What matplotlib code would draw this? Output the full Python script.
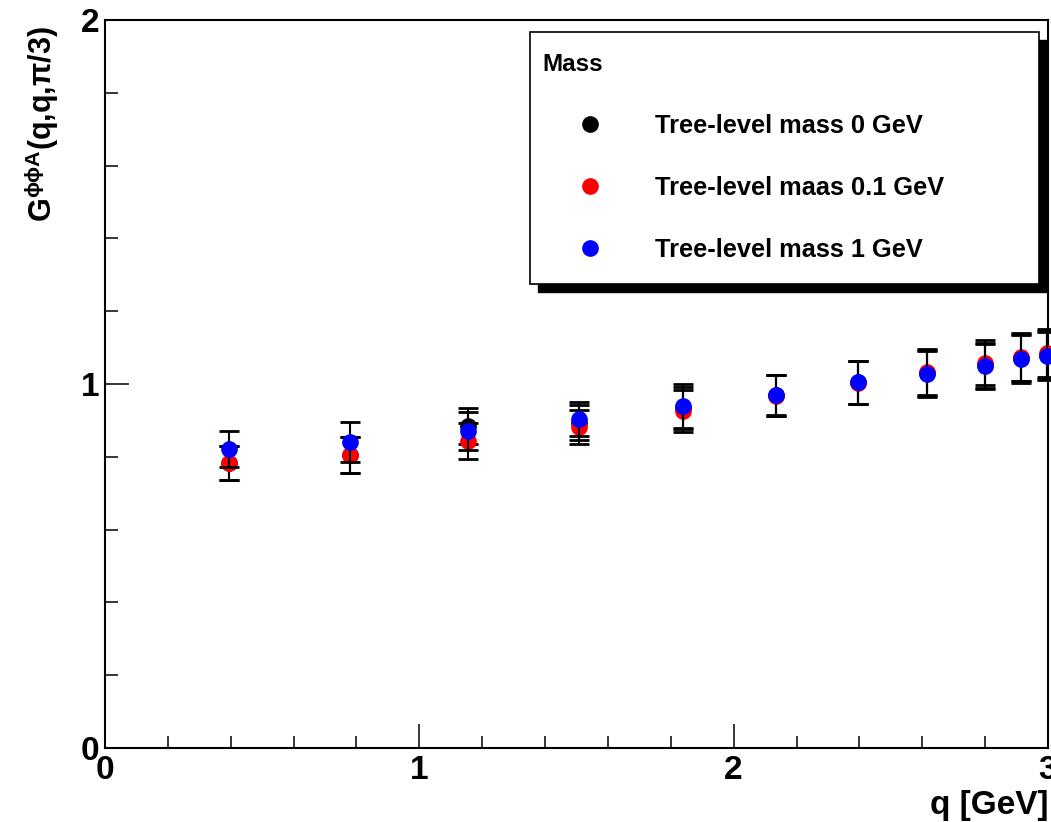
import matplotlib
matplotlib.use("Agg")
import matplotlib.pyplot as plt
from matplotlib.patches import Rectangle
from matplotlib.ticker import MultipleLocator

plt.rcParams['font.family'] = ['Liberation Sans', 'DejaVu Sans']
plt.rcParams['font.weight'] = 'bold'
plt.rcParams['mathtext.fontset'] = 'custom'
plt.rcParams['mathtext.rm'] = 'Liberation Sans:bold'
plt.rcParams['mathtext.it'] = 'Liberation Sans:bold'
plt.rcParams['mathtext.bf'] = 'Liberation Sans:bold'

# data
q = [0.395, 0.78, 1.155, 1.508, 1.839, 2.135, 2.396, 2.615, 2.80, 2.914, 2.997]

g_m0 = [0.783, 0.805, 0.884, 0.893, 0.934, 0.969, 1.005, 1.030, 1.052, 1.072, 1.080]
err_m0 = [0.047, 0.049, 0.050, 0.048, 0.058, 0.056, 0.059, 0.063, 0.062, 0.065, 0.066]

g_m01 = [0.783, 0.805, 0.843, 0.882, 0.926, 0.968, 1.003, 1.033, 1.058, 1.074, 1.085]
err_m01 = [0.047, 0.049, 0.049, 0.047, 0.058, 0.056, 0.059, 0.063, 0.062, 0.065, 0.066]

g_m1 = [0.821, 0.841, 0.871, 0.904, 0.940, 0.970, 1.005, 1.027, 1.049, 1.069, 1.077]
err_m1 = [0.049, 0.055, 0.052, 0.047, 0.060, 0.056, 0.059, 0.063, 0.062, 0.065, 0.066]

labels = ["Tree-level mass 0 GeV", "Tree-level maas 0.1 GeV", "Tree-level mass 1 GeV"]
colors = ["black", "red", "blue"]

W, H = 1051, 822
fig = plt.figure(figsize=(W / 100, H / 100), dpi=100)
ax = fig.add_axes([105 / W, 1 - 748 / H, 943 / W, 728 / H])

handles = []
for i, (y, e) in enumerate([(g_m0, err_m0), (g_m01, err_m01), (g_m1, err_m1)]):
    cont = ax.errorbar(q, y, yerr=e, fmt='o', color=colors[i], ms=11,
                       ecolor='black', elinewidth=1.5, capsize=7, capthick=2,
                       zorder=2 + i, clip_on=False)
    handles.append(cont[0])

ax.set_xlim(0, 3)
ax.set_ylim(0, 2)
ax.xaxis.set_major_locator(MultipleLocator(1))
ax.xaxis.set_minor_locator(MultipleLocator(0.2))
ax.yaxis.set_major_locator(MultipleLocator(1))
ax.yaxis.set_minor_locator(MultipleLocator(0.2))
ax.tick_params(which='both', direction='in', top=False, right=False,
               width=1.1, labelsize=24)
ax.tick_params(which='major', length=17)
ax.tick_params(which='minor', length=9)
ax.tick_params(axis='x', pad=5)
ax.tick_params(axis='y', pad=4)
for s in ax.spines.values():
    s.set_linewidth(1.5)

fig.text(42 / W, 1 - 26 / H, r'G$^{\phi\phi A}$(q,q,$\pi$/3)', rotation=90,
         ha='center', va='top', fontsize=22)
fig.text(1048 / W, 0.001, 'q [GeV]', ha='right', va='bottom', fontsize=24)

# legend box with a black drop shadow
fig.patches.append(Rectangle((538 / W, 1 - 292 / H), 509 / W, 252 / H,
                             transform=fig.transFigure, facecolor='black',
                             edgecolor='black', zorder=5))
fig.patches.append(Rectangle((530 / W, 1 - 284 / H), 509 / W, 252 / H,
                             transform=fig.transFigure, facecolor='white',
                             edgecolor='black', lw=1.2, zorder=6))
leg = fig.legend(handles, labels, title='Mass', loc='upper left',
                 bbox_to_anchor=(530 / W, 1 - 40 / H), bbox_transform=fig.transFigure,
                 frameon=False, alignment='left', fontsize=18.3, title_fontsize=17.5,
                 numpoints=1, handlelength=3.7, handletextpad=0.7,
                 labelspacing=1.5, borderpad=0)
leg.set_zorder(7)
leg.get_title().set_fontweight('bold')

fig.savefig("out.png", dpi=100)
